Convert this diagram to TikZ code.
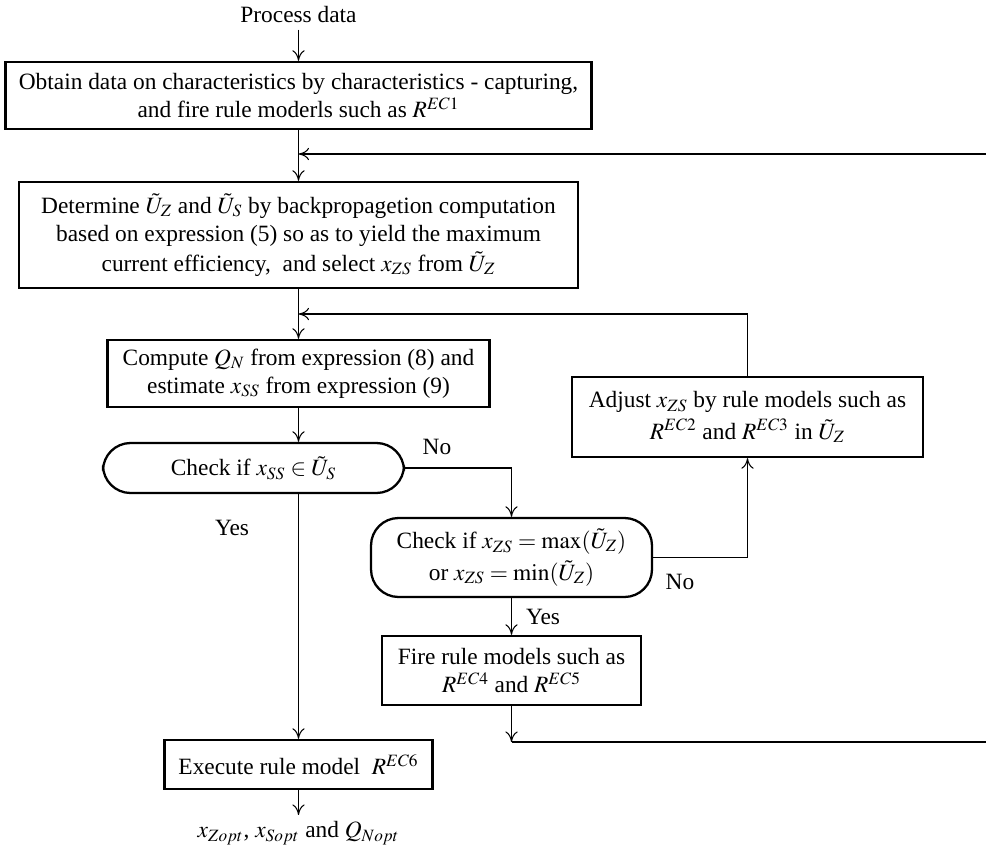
\documentclass[tikz,border=0pt]{standalone}
\usepackage{mathptmx}
\usepackage[no-math]{fontspec}
\setmainfont{Liberation Serif}
\usetikzlibrary{arrows.meta}

\begin{document}
\begin{tikzpicture}[x=0.02cm,y=-0.02cm,line width=0.6pt,
    font=\fontsize{13.3}{15}\selectfont,
    >={To[length=6pt,width=7pt]},
    box/.style={draw,line width=1.3pt,align=center,inner sep=0pt},
    rbox/.style={box,rounded corners=0.55cm}]
    \useasboundingbox (0,0) rectangle (986,852);

    \node (proc) at (298.5,15) {Process data};
    \node[box,minimum width=11.72cm,minimum height=1.34cm] (obtain) at (298.5,95.5)
        {Obtain data on characteristics by characteristics - capturing,\\[1pt] and fire rule moderls such as $R^{EC1}$};
    \node[box,minimum width=11.18cm,minimum height=2.12cm] (determine) at (298.5,235)
        {Determine $\tilde{U}_Z$ and $\tilde{U}_S$ by backpropagetion computation\\[1pt] based on expression (5) so as to yield the maximum\\[2pt] current efficiency,\ \ and select $x_{ZS}$ from $\tilde{U}_Z$};
    \node[box,minimum width=7.64cm,minimum height=1.34cm] (compute) at (298.5,373.5)
        {Compute $Q_N$ from expression (8) and\\[1pt] estimate $x_{SS}$ from expression (9)};
    \node[rbox,minimum width=6.02cm,minimum height=1.0cm] (check1) at (253.5,468)
        {Check if $x_{SS}\in\tilde{U}_S$};
    \node[rbox,minimum width=5.62cm,minimum height=1.58cm] (check2) at (511.5,557.5)
        {Check if $x_{ZS}=\max(\tilde{U}_Z)$\\[3pt] or $x_{ZS}=\min(\tilde{U}_Z)$};
    \node[box,minimum width=7.02cm,minimum height=1.6cm] (adjust) at (747.5,417)
        {Adjust $x_{ZS}$ by rule models such as\\[3pt] $R^{EC2}$ and $R^{EC3}$ in $\tilde{U}_Z$};
    \node[box,minimum width=5.18cm,minimum height=1.38cm] (fire) at (511.5,670.5)
        {Fire rule models such as\\[1pt] $R^{EC4}$ and $R^{EC5}$};
    \node[box,minimum width=5.36cm,minimum height=0.98cm] (execute) at (298.5,764.5)
        {Execute rule model\ \ $R^{EC6}$};
    \node (result) at (298.5,833) {$x_{Zopt}$, $x_{Sopt}$ and $Q_{Nopt}$};

    \node (no1) at (437,447) {No};
    \node (yes1) at (232,528) {Yes};
    \node (no2) at (680,582) {No};
    \node (yes2) at (543,617) {Yes};

    \coordinate (loopin) at (986,154);
    \coordinate (loopout) at (986,742);
    \coordinate (back) at (298.5,314);

    \foreach \from/\to in {proc/obtain,obtain/determine,determine/compute,check2/fire,execute/result}
        \draw[->] (\from)--(\to);
    \draw[->] (compute.south) -- (compute.south |- check1.north);
    \draw[->] (check1.south -| proc) -- (execute);
    \draw[->] (check1.east) -| (check2.north);
    \draw[->] (check2.east) -| (adjust.south);
    \draw[->] (adjust.north) |- (back);
    \draw[->] (loopin) -- (loopin -| proc);
    \draw[->] (fire) -- (fire |- loopout);
    \draw (fire |- loopout) -- (loopout);
\end{tikzpicture}
\end{document}
